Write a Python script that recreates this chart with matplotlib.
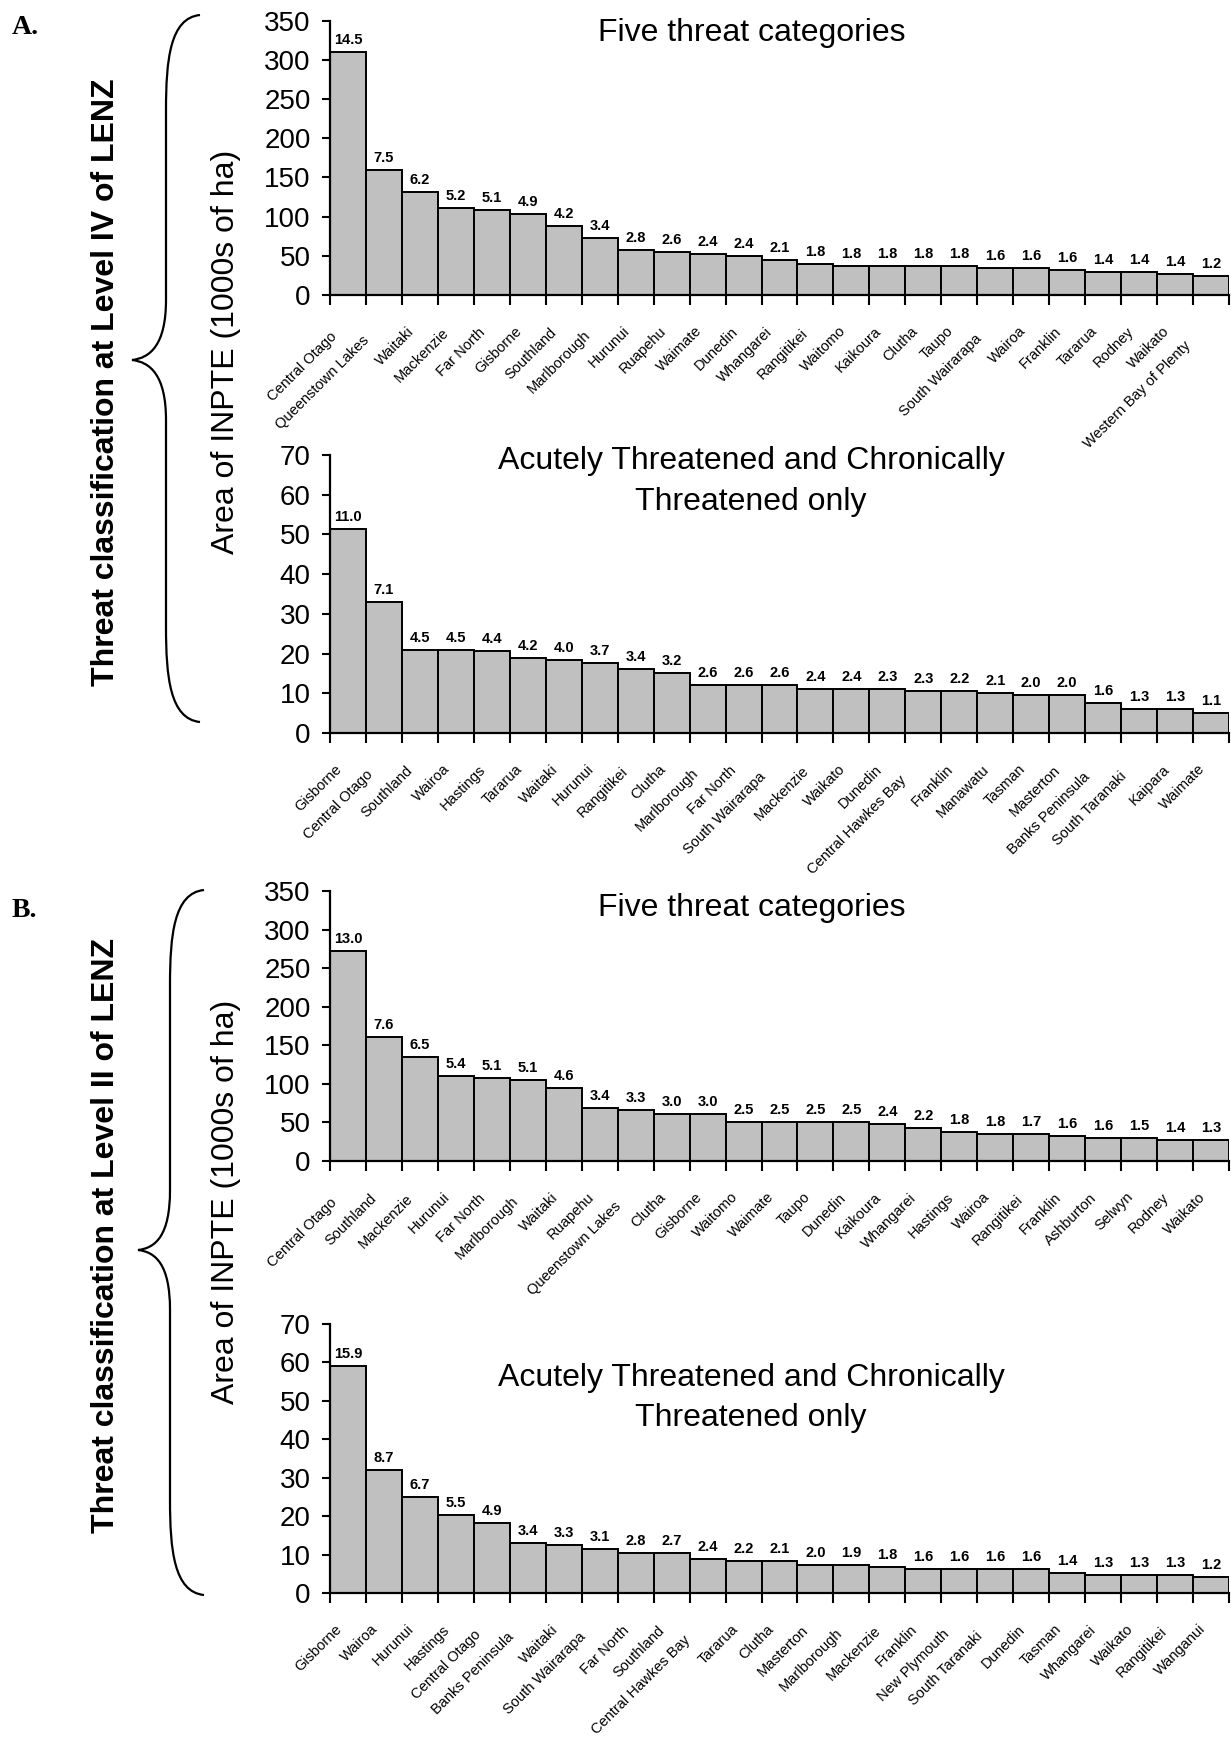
import numpy as np
import matplotlib
matplotlib.use("Agg")
import matplotlib.pyplot as plt
from matplotlib.path import Path
from matplotlib.patches import PathPatch

plt.rcParams['font.family'] = ['Liberation Sans', 'DejaVu Sans']

## A. Level IV of LENZ - five threat categories
a5_names = ["Central Otago", "Queenstown Lakes", "Waitaki", "Mackenzie", "Far North",
            "Gisborne", "Southland", "Marlborough", "Hurunui", "Ruapehu", "Waimate",
            "Dunedin", "Whangarei", "Rangitikei", "Waitomo", "Kaikoura", "Clutha",
            "Taupo", "South Wairarapa", "Wairoa", "Franklin", "Tararua", "Rodney",
            "Waikato", "Western Bay of Plenty"]
a5_area = [310, 159.5, 131.5, 111.6, 108.6, 103.5, 88.2, 73, 58, 55, 52.6, 50, 45,
           40, 37.3, 37.3, 37.3, 37.3, 34.8, 34.8, 32.2, 29.7, 29.7, 27.2, 24.6]
a5_pct = [14.5, 7.5, 6.2, 5.2, 5.1, 4.9, 4.2, 3.4, 2.8, 2.6, 2.4, 2.4, 2.1,
          1.8, 1.8, 1.8, 1.8, 1.8, 1.6, 1.6, 1.6, 1.4, 1.4, 1.4, 1.2]

## A. Level IV - acutely + chronically threatened only
a2_names = ["Gisborne", "Central Otago", "Southland", "Wairoa", "Hastings", "Tararua",
            "Waitaki", "Hurunui", "Rangitikei", "Clutha", "Marlborough", "Far North",
            "South Wairarapa", "Mackenzie", "Waikato", "Dunedin", "Central Hawkes Bay",
            "Franklin", "Manawatu", "Tasman", "Masterton", "Banks Peninsula",
            "South Taranaki", "Kaipara", "Waimate"]
a2_area = [51.3, 33.1, 21.0, 21.0, 20.6, 19.0, 18.5, 17.6, 16.1, 15.1, 12.0, 12.0, 12.0,
           11.1, 11.1, 11.1, 10.6, 10.6, 10.1, 9.5, 9.5, 7.5, 6.0, 6.0, 5.0]
a2_pct = [11.0, 7.1, 4.5, 4.5, 4.4, 4.2, 4.0, 3.7, 3.4, 3.2, 2.6, 2.6, 2.6,
          2.4, 2.4, 2.3, 2.3, 2.2, 2.1, 2.0, 2.0, 1.6, 1.3, 1.3, 1.1]

## B. Level II of LENZ - five threat categories
b5_names = ["Central Otago", "Southland", "Mackenzie", "Hurunui", "Far North",
            "Marlborough", "Waitaki", "Ruapehu", "Queenstown Lakes", "Clutha", "Gisborne",
            "Waitomo", "Waimate", "Taupo", "Dunedin", "Kaikoura", "Whangarei", "Hastings",
            "Wairoa", "Rangitikei", "Franklin", "Ashburton", "Selwyn", "Rodney", "Waikato"]
b5_area = [271.9, 160.2, 134.2, 110.8, 108.2, 105.6, 95.2, 69.3, 66.7, 61.5, 61.5,
           51.1, 51.1, 51.1, 51.1, 48.5, 43.3, 38.1, 35.5, 35.5, 32.9, 30.3, 30.3,
           27.7, 27.7]
b5_pct = [13.0, 7.6, 6.5, 5.4, 5.1, 5.1, 4.6, 3.4, 3.3, 3.0, 3.0, 2.5, 2.5, 2.5, 2.5,
          2.4, 2.2, 1.8, 1.8, 1.7, 1.6, 1.6, 1.5, 1.4, 1.3]

## B. Level II - acutely + chronically threatened only
b2_names = ["Gisborne", "Wairoa", "Hurunui", "Hastings", "Central Otago",
            "Banks Peninsula", "Waitaki", "South Wairarapa", "Far North", "Southland",
            "Central Hawkes Bay", "Tararua", "Clutha", "Masterton", "Marlborough",
            "Mackenzie", "Franklin", "New Plymouth", "South Taranaki", "Dunedin",
            "Tasman", "Whangarei", "Waikato", "Rangitikei", "Wanganui"]
b2_area = [59.2, 32.1, 24.9, 20.2, 18.1, 12.9, 12.4, 11.4, 10.3, 10.3, 8.8, 8.2, 8.2,
           7.2, 7.2, 6.7, 6.2, 6.2, 6.2, 6.2, 5.1, 4.6, 4.6, 4.6, 4.1]
b2_pct = [15.9, 8.7, 6.7, 5.5, 4.9, 3.4, 3.3, 3.1, 2.8, 2.7, 2.4, 2.2, 2.1, 2.0, 1.9,
          1.8, 1.6, 1.6, 1.6, 1.6, 1.4, 1.3, 1.3, 1.3, 1.2]

W, H = 1231, 1742
fig = plt.figure(figsize=(W / 100, H / 100), dpi=100)

# overlay in pixel coords (y down) for the braces and side labels
ov = fig.add_axes([0, 0, 1, 1], zorder=-1)
ov.set_xlim(0, W)
ov.set_ylim(H, 0)
ov.axis("off")


def bar_panel(rect, names, area, pct, ymax, ystep):
    x0, ytop, ybot = rect
    ax = fig.add_axes([x0 / W, 1 - ybot / H, (1229 - x0) / W, (ybot - ytop) / H])
    x = np.arange(len(names))
    ax.bar(x, area, width=1.0, color="#c0c0c0", edgecolor="black", linewidth=1.4)
    ax.set_xlim(-0.5, len(names) - 0.5)
    ax.set_ylim(0, ymax)
    ax.set_yticks(np.arange(0, ymax + 1, ystep))
    ax.set_xticks(np.arange(-0.5, len(names), 1.0))
    ax.set_xticklabels([])
    ax.tick_params(axis="y", direction="out", length=6, width=1.5, labelsize=20, pad=8)
    ax.tick_params(axis="x", direction="out", length=7, width=1.5)
    for s in ["top", "right"]:
        ax.spines[s].set_visible(False)
    for s in ["left", "bottom"]:
        ax.spines[s].set_linewidth(1.6)
    ax.patch.set_alpha(0)
    for i, (h, p) in enumerate(zip(area, pct)):
        ax.annotate("%.1f" % p, xy=(i, h), xytext=(0, 5), textcoords="offset pixels",
                    ha="center", va="bottom", fontsize=10.5, fontweight="bold")
    # rotated names: longer names slide a little further down-left, as in the original
    for i, nm in enumerate(names):
        d = 1.6 * max(0, len(nm) - 8)
        ax.annotate(nm, xy=(i, 0), xycoords=("data", "axes fraction"),
                    xytext=(-8 - 0.707 * d, -34 - 0.707 * d), textcoords="offset pixels",
                    rotation=45, rotation_mode="anchor", ha="right", va="center",
                    fontsize=10.5)
    return ax


bar_panel((330, 20.7, 295), a5_names, a5_area, a5_pct, 350, 50)
bar_panel((330, 455, 733), a2_names, a2_area, a2_pct, 70, 10)
bar_panel((330, 891, 1161), b5_names, b5_area, b5_pct, 350, 50)
bar_panel((330, 1324, 1593), b2_names, b2_area, b2_pct, 70, 10)

# panel titles
ov.text(752, 33, "Five threat categories", ha="center", va="center", fontsize=23)
ov.text(751, 461, "Acutely Threatened and Chronically", ha="center", va="center", fontsize=23)
ov.text(751, 502, "Threatened only", ha="center", va="center", fontsize=23)
ov.text(752, 908, "Five threat categories", ha="center", va="center", fontsize=23)
ov.text(751, 1378, "Acutely Threatened and Chronically", ha="center", va="center", fontsize=23)
ov.text(751, 1418, "Threatened only", ha="center", va="center", fontsize=23)


def brace(x_end, x_line, x_tip, y_top, y_tip, y_bot):
    verts = [(x_end, y_top), (x_line + 4, y_top + 3), (x_line, y_top + 45), (x_line, y_top + 95),
             (x_line, y_tip - 60),
             (x_line, y_tip - 15), (x_tip + 18, y_tip - 2), (x_tip, y_tip),
             (x_tip + 18, y_tip + 2), (x_line, y_tip + 15), (x_line, y_tip + 60),
             (x_line, y_bot - 95),
             (x_line, y_bot - 45), (x_line + 4, y_bot - 3), (x_end, y_bot)]
    codes = [Path.MOVETO, Path.CURVE4, Path.CURVE4, Path.CURVE4,
             Path.LINETO,
             Path.CURVE4, Path.CURVE4, Path.CURVE4,
             Path.CURVE4, Path.CURVE4, Path.CURVE4,
             Path.LINETO,
             Path.CURVE4, Path.CURVE4, Path.CURVE4]
    ov.add_patch(PathPatch(Path(verts, codes), fill=False, lw=1.6, edgecolor="black"))


brace(200, 166, 132, 15, 360, 722)
brace(204, 170, 138, 890, 1250, 1595)

# side labels
ov.text(106, 382, "Threat classification at Level IV of LENZ", rotation=90,
        ha="center", va="center", fontsize=23, fontweight="bold")
ov.text(106, 1235, "Threat classification at Level II of LENZ", rotation=90,
        ha="center", va="center", fontsize=23, fontweight="bold")
ov.text(226, 352, "Area of INPTE (1000s of ha)", rotation=90,
        ha="center", va="center", fontsize=23)
ov.text(226, 1202, "Area of INPTE (1000s of ha)", rotation=90,
        ha="center", va="center", fontsize=23)
ov.text(12, 28, "A.", ha="left", va="center", fontsize=20, fontweight="bold",
        family=["Liberation Serif", "DejaVu Serif"])
ov.text(12, 910, "B.", ha="left", va="center", fontsize=20, fontweight="bold",
        family=["Liberation Serif", "DejaVu Serif"])

fig.savefig("out.png", dpi=100)
